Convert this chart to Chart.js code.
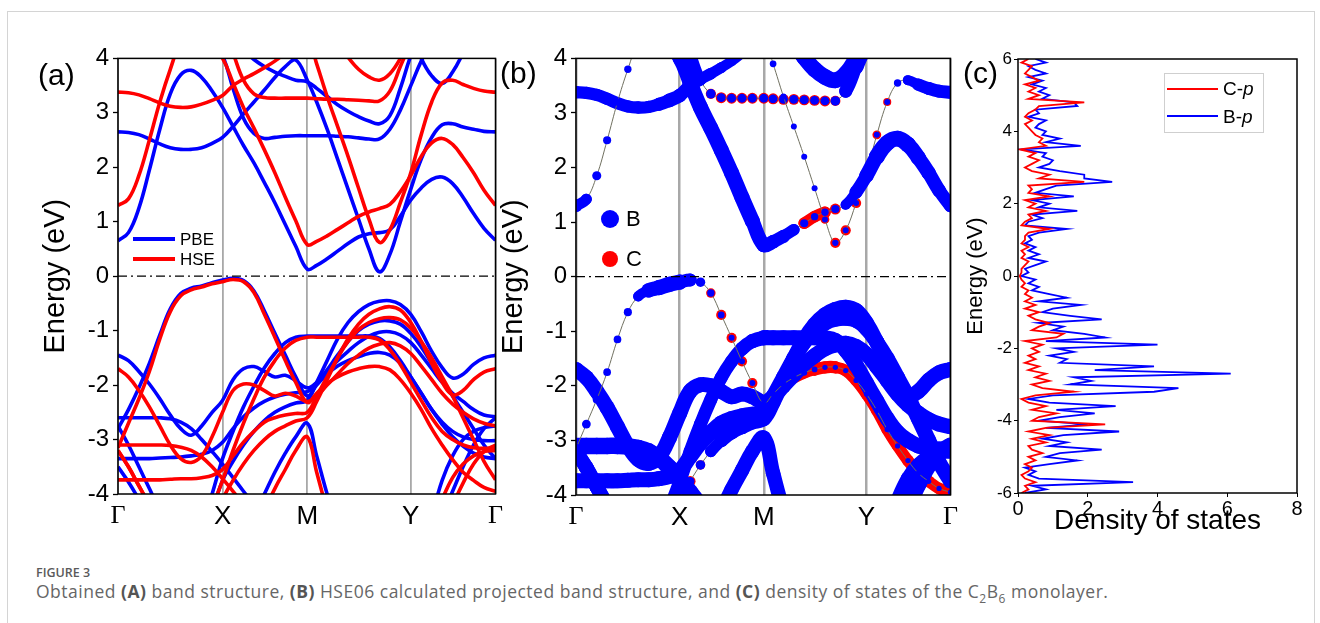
<!DOCTYPE html>
<html>
<head>
<meta charset="utf-8">
<script src="https://cdn.jsdelivr.net/npm/chart.js@4.4.1/dist/chart.umd.min.js"></script>
<style>
  body { margin: 0; background: #fff; width: 1320px; height: 623px; overflow: hidden; position: relative;
         font-family: "Liberation Sans", Arial, sans-serif; color: #000; }
  .card { position: absolute; left: 7px; top: 11px; width: 1306px; height: 680px; border: 1px solid #d4d4d4; }
  canvas { position: absolute; }
  .lab { position: absolute; line-height: 1; white-space: nowrap; }
  .swatch { position: absolute; }
  .cap1 { position: absolute; left: 36px; top: 564px; font: 600 12.5px "Open Sans", sans-serif; color: #5a5a5a; }
  .cap2 { position: absolute; left: 36px; top: 579px; font: 400 17.5px "Open Sans", sans-serif; color: #666; white-space: nowrap; letter-spacing: 0.5px; }
  .cap2 b { font-weight: 700; color: #555; }
</style>
</head>
<body>
<div class="card"></div>

<canvas id="bandA" width="490" height="490" style="left:20px;top:40px;width:490px;height:490px"></canvas>
<canvas id="bandB" width="475" height="490" style="left:490px;top:40px;width:475px;height:490px"></canvas>
<canvas id="dosC" width="350" height="500" style="left:960px;top:40px;width:350px;height:500px"></canvas>

<div class="lab" style="left:38px;top:60px;font-size:30px">(a)</div>
<div class="lab" style="left:500px;top:58px;font-size:30px">(b)</div>
<div class="lab" style="left:963px;top:58px;font-size:30px">(c)</div>

<!-- legend (a) -->
<div class="swatch" style="left:133px;top:237px;width:42px;height:4px;background:#0000ff"></div>
<div class="lab" style="left:180px;top:231px;font-size:17px">PBE</div>
<div class="swatch" style="left:133px;top:257px;width:42px;height:4px;background:#ff0000"></div>
<div class="lab" style="left:180px;top:251px;font-size:17px">HSE</div>

<!-- legend (b) -->
<div class="swatch" style="left:601px;top:210px;width:18px;height:18px;border-radius:50%;background:#0000ff"></div>
<div class="lab" style="left:626px;top:208px;font-size:22px">B</div>
<div class="swatch" style="left:602px;top:251px;width:16px;height:16px;border-radius:50%;background:#ff0000"></div>
<div class="lab" style="left:626px;top:248px;font-size:22px">C</div>

<!-- legend (c) -->
<div class="swatch" style="left:1164px;top:73px;width:98px;height:58px;border:1px solid #cfcfcf"></div>
<div class="swatch" style="left:1167px;top:88px;width:51px;height:2px;background:#ff0000"></div>
<div class="lab" style="left:1223px;top:79px;font-size:19px">C-<i>p</i></div>
<div class="swatch" style="left:1167px;top:115px;width:51px;height:2px;background:#0000ff"></div>
<div class="lab" style="left:1223px;top:107px;font-size:19px">B-<i>p</i></div>

<div class="cap1">FIGURE 3</div>
<div class="cap2">Obtained <b>(A)</b> band structure, <b>(B)</b> HSE06 calculated projected band structure, and <b>(C)</b> density of states of the C<sub style="font-size:12px">2</sub>B<sub style="font-size:12px">6</sub> monolayer.</div>

<script>
// k-path: high-symmetry points and the sampled k positions
const kTicks = [0, 1, 1.81, 2.8, 3.61];
const kLabels = ['Γ', 'X', 'M', 'Y', 'Γ'];
const kPath = [0, 0.1, 0.2, 0.3, 0.4, 0.5, 0.6, 0.7, 0.8, 0.9, 1.0,
               1.1, 1.2, 1.3, 1.4, 1.5, 1.6, 1.7, 1.81,
               1.9, 2.0, 2.1, 2.2, 2.3, 2.4, 2.5, 2.6, 2.7, 2.8,
               2.9, 3.0, 3.1, 3.2, 3.3, 3.4, 3.5, 3.61];
const energyTicks = [-4, -3, -2, -1, 0, 1, 2, 3, 4];

// PBE bands (eV), rows: Γ-X | X-M | M-Y | Y-Γ
const pbeC1 = [0.65, 0.8, 1.25, 1.95, 2.7, 3.35, 3.7, 3.78, 3.65, 3.4, 3.1,
               2.75, 2.4, 2.08, 1.72, 1.35, 0.95, 0.55, 0.13,
               0.2, 0.32, 0.46, 0.6, 0.72, 0.78, 0.8, 0.85, 1.1, 1.4,
               1.62, 1.78, 1.82, 1.7, 1.45, 1.15, 0.88, 0.66];
const pbeC2 = [2.65, 2.64, 2.6, 2.52, 2.43, 2.36, 2.33, 2.33, 2.36, 2.44, 2.55,
               2.75, 2.98, 3.2, 3.42, 3.65, 3.85, 3.97, 3.6,
               3.2, 2.7, 2.15, 1.6, 1.05, 0.5, 0.08, 0.4, 1.0, 1.6,
               2.15, 2.55, 2.78, 2.8, 2.74, 2.7, 2.66, 2.65];
const pbeC3 = [4.8, 4.8, 4.8, 4.8, 4.8, 4.8, 4.7, 4.6, 4.5, 4.3, 4.05,
               3.45, 2.9, 2.62, 2.53, 2.55, 2.57, 2.58, 2.58,
               2.58, 2.58, 2.57, 2.56, 2.54, 2.52, 2.52, 2.7, 3.05, 3.5,
               3.95, 4.3, 4.6, 4.8, 4.8, 4.8, 4.8, 4.8];
const pbeC4 = [4.8, 4.8, 4.8, 4.8, 4.8, 4.8, 4.8, 4.8, 4.8, 4.7, 4.6,
               4.35, 4.15, 3.98, 3.85, 3.75, 3.67, 3.6, 3.57,
               3.45, 3.3, 3.15, 3.03, 2.93, 2.85, 2.8, 2.95, 3.45, 4.05,
               4.5, 4.8, 4.8, 4.8, 4.8, 4.8, 4.8, 4.8];
const pbeC5 = [4.8, 4.8, 4.8, 4.8, 4.8, 4.8, 4.8, 4.8, 4.8, 4.8, 4.8,
               4.8, 4.8, 4.8, 4.8, 4.8, 4.8, 4.8, 4.8,
               4.8, 4.8, 4.8, 4.8, 4.8, 4.8, 4.8, 4.8, 4.8, 4.5,
               4.0, 3.68, 3.54, 3.75, 4.1, 4.5, 4.8, 4.8];
const pbeV1 = [-2.8, -2.45, -2.05, -1.6, -1.08, -0.6, -0.32, -0.22, -0.18, -0.12, -0.07,
               -0.04, -0.08, -0.27, -0.64, -1.05, -1.45, -1.85, -2.2,
               -2.0, -1.8, -1.65, -1.55, -1.48, -1.42, -1.4, -1.45, -1.6, -1.85,
               -2.15, -2.45, -2.72, -2.95, -3.12, -3.25, -3.32, -3.35];
const pbeV2 = [-1.45, -1.55, -1.75, -1.98, -2.25, -2.55, -2.8, -2.92, -2.75, -2.5, -2.28,
               -1.9, -1.7, -1.66, -1.75, -1.85, -1.82, -1.92, -2.05,
               -1.95, -1.75, -1.55, -1.38, -1.22, -1.1, -1.03, -1.02, -1.08, -1.22,
               -1.45, -1.7, -1.95, -2.15, -2.3, -2.45, -2.55, -2.58];
const pbeV3 = [-2.6, -2.6, -2.6, -2.6, -2.6, -2.62, -2.68, -2.8, -3.0, -3.22, -3.45,
               -3.7, -3.95, -4.2, -4.45, -4.7, -4.9, -5, -5,
               -5, -5, -5, -5, -5, -5, -5, -5, -5, -5,
               -5, -4.8, -4.4, -3.95, -3.5, -3.1, -2.8, -2.6];
const pbeV4 = [-3.5, -3.78, -4.1, -4.45, -4.75, -5, -5, -5, -4.6, -4.0, -3.35,
               -2.85, -2.4, -2.02, -1.68, -1.42, -1.22, -1.12, -1.1,
               -1.1, -1.1, -1.1, -1.1, -1.1, -1.1, -1.14, -1.3, -1.55, -1.85,
               -2.15, -2.45, -2.68, -2.85, -2.95, -3.0, -3.02, -3.02];
const pbeV5 = [-3.35, -3.35, -3.35, -3.35, -3.34, -3.33, -3.32, -3.3, -3.27, -3.2, -3.05,
               -2.8, -2.58, -2.42, -2.3, -2.22, -2.17, -2.14, -2.12,
               -1.98, -1.72, -1.45, -1.2, -1.0, -0.88, -0.82, -0.82, -0.88, -1.05,
               -1.3, -1.6, -1.9, -2.2, -2.5, -2.8, -3.1, -3.35];
const pbeV6 = [-2.75, -3.1, -3.5, -3.9, -4.3, -4.65, -5, -5, -5, -5, -5,
               -5, -4.8, -4.4, -4.0, -3.6, -3.25, -2.95, -2.7,
               -3.3, -4.0, -4.6, -5, -5, -5, -5, -5, -5, -5,
               -5, -4.4, -3.75, -3.3, -3.0, -2.85, -2.78, -2.75];
const pbeV7 = [-5, -5, -5, -5, -5, -5, -5, -5, -4.8, -4.3, -3.75,
               -3.4, -3.1, -2.85, -2.65, -2.5, -2.4, -2.33, -2.28,
               -1.95, -1.55, -1.15, -0.85, -0.65, -0.52, -0.46, -0.45, -0.52, -0.7,
               -1.02, -1.38, -1.68, -1.87, -1.8, -1.62, -1.5, -1.45];

// HSE bands (eV)
const hseC1 = [1.3, 1.42, 1.85, 2.5, 3.2, 3.8, 4.3, 4.5, 4.4, 4.2, 4.0,
               3.55, 3.1, 2.72, 2.32, 1.9, 1.45, 1.02, 0.58,
               0.64, 0.74, 0.86, 0.98, 1.1, 1.18, 1.24, 1.32, 1.55, 1.85,
               2.2, 2.45, 2.53, 2.42, 2.18, 1.9, 1.58, 1.3];
const hseC2 = [3.38, 3.37, 3.33, 3.26, 3.18, 3.12, 3.1, 3.11, 3.16, 3.23, 3.32,
               3.5, 3.62, 3.72, 3.83, 3.95, 4.1, 4.28, 4.4,
               3.9, 3.3, 2.75, 2.2, 1.62, 1.05, 0.62, 0.85, 1.35, 1.9,
               2.6, 3.2, 3.55, 3.6, 3.52, 3.45, 3.4, 3.38];
const hseC3 = [4.8, 4.8, 4.8, 4.8, 4.8, 4.8, 4.8, 4.8, 4.8, 4.7, 4.6,
               4.1, 3.6, 3.35, 3.28, 3.27, 3.27, 3.27, 3.27,
               3.26, 3.25, 3.25, 3.24, 3.23, 3.22, 3.22, 3.4, 3.85, 4.3,
               4.8, 4.8, 4.8, 4.8, 4.8, 4.8, 4.8, 4.8];
const hseC4 = [4.8, 4.8, 4.8, 4.8, 4.8, 4.8, 4.8, 4.8, 4.8, 4.8, 4.8,
               4.8, 4.8, 4.8, 4.8, 4.8, 4.8, 4.8, 4.8,
               4.8, 4.6, 4.3, 4.02, 3.8, 3.66, 3.6, 3.72, 4.0, 4.4,
               4.8, 4.8, 4.8, 4.8, 4.8, 4.8, 4.8, 4.8];
const hseV1 = [-3.15, -2.7, -2.25, -1.75, -1.15, -0.65, -0.36, -0.25, -0.2, -0.14, -0.1,
               -0.06, -0.1, -0.3, -0.7, -1.12, -1.55, -1.95, -2.32,
               -2.15, -1.97, -1.85, -1.76, -1.7, -1.66, -1.66, -1.72, -1.9, -2.15,
               -2.45, -2.8, -3.1, -3.37, -3.6, -3.75, -3.88, -3.95];
const hseV2 = [-1.7, -1.85, -2.1, -2.4, -2.75, -3.1, -3.35, -3.42, -3.3, -2.95, -2.5,
               -2.1, -1.98, -2.0, -2.1, -2.2, -2.15, -2.2, -2.3,
               -2.2, -2.0, -1.8, -1.6, -1.45, -1.32, -1.25, -1.22, -1.28, -1.42,
               -1.65, -1.9, -2.15, -2.35, -2.5, -2.62, -2.7, -2.75];
const hseV3 = [-3.1, -3.1, -3.1, -3.1, -3.1, -3.11, -3.14, -3.2, -3.32, -3.5, -3.72,
               -3.95, -4.2, -4.45, -4.7, -4.9, -5, -5, -5,
               -5, -5, -5, -5, -5, -5, -5, -5, -5, -5,
               -5, -4.9, -4.6, -4.2, -3.8, -3.45, -3.22, -3.1];
const hseV4 = [-3.2, -3.5, -3.85, -4.2, -4.55, -4.8, -5, -5, -4.7, -4.25, -3.75,
               -3.2, -2.7, -2.25, -1.85, -1.55, -1.32, -1.18, -1.12,
               -1.12, -1.12, -1.12, -1.12, -1.12, -1.12, -1.17, -1.35, -1.62, -1.95,
               -2.28, -2.6, -2.85, -3.0, -3.1, -3.15, -3.16, -3.15];
const hseV5 = [-3.74, -3.74, -3.74, -3.74, -3.74, -3.73, -3.72, -3.72, -3.7, -3.66, -3.55,
               -3.3, -3.05, -2.85, -2.68, -2.6, -2.55, -2.52, -2.5,
               -2.2, -1.85, -1.5, -1.2, -0.98, -0.85, -0.78, -0.76, -0.8, -0.95,
               -1.2, -1.5, -1.85, -2.2, -2.6, -3.0, -3.4, -3.74];
const hseV6 = [-3.2, -3.5, -3.85, -4.2, -4.6, -4.9, -5, -5, -5, -5, -5,
               -5, -5, -4.7, -4.3, -3.9, -3.55, -3.2, -2.95,
               -3.6, -4.3, -4.9, -5, -5, -5, -5, -5, -5, -5,
               -5, -4.6, -4.1, -3.7, -3.45, -3.3, -3.22, -3.2];
const hseV7 = [-5, -5, -5, -5, -5, -5, -5, -5, -5, -4.6, -4.1,
               -3.75, -3.45, -3.2, -3.0, -2.85, -2.75, -2.66, -2.6,
               -2.3, -1.9, -1.5, -1.15, -0.88, -0.7, -0.6, -0.56, -0.62, -0.85,
               -1.2, -1.6, -1.95, -2.18, -2.1, -1.9, -1.76, -1.7];

// projected weights for panel (b): B and C character (0..1)
const hseC1B = [0.7, 0.55, 0.42, 0.35, 0.32, 0.3, 0.3, 0.3, 0.5, 0.7, 0.8,
                0.85, 0.85, 0.85, 0.85, 0.85, 0.85, 0.85, 0.8,
                0.75, 0.7, 0.6, 0.35, 0.3, 0.3, 0.35, 0.5, 0.7, 0.8,
                0.9, 0.9, 0.9, 0.9, 0.85, 0.8, 0.75, 0.7];
const hseC1C = [0, 0, 0, 0, 0, 0, 0, 0, 0, 0, 0,
                0, 0, 0, 0, 0, 0, 0, 0,
                0, 0, 0, 0.6, 0.6, 0.6, 0.55, 0.3, 0, 0,
                0, 0, 0, 0, 0, 0, 0, 0];
const hseC2B = [0.65, 0.65, 0.65, 0.65, 0.65, 0.65, 0.65, 0.65, 0.7, 0.75, 0.75,
                0.7, 0.65, 0.6, 0.55, 0.5, 0.5, 0.5, 0.4,
                0.25, 0.22, 0.2, 0.2, 0.2, 0.2, 0.22, 0.2, 0.2, 0.2,
                0.2, 0.2, 0.3, 0.5, 0.65, 0.7, 0.7, 0.7];
const hseC2C = [0, 0, 0, 0, 0, 0, 0, 0, 0, 0, 0,
                0, 0, 0, 0, 0, 0, 0, 0,
                0, 0, 0, 0, 0, 0.4, 0.5, 0.5, 0.5, 0.45,
                0.4, 0.35, 0, 0, 0, 0, 0, 0];
const hseC3B = [0.6, 0.6, 0.6, 0.6, 0.6, 0.6, 0.6, 0.6, 0.6, 0.6, 0.6,
                0.6, 0.55, 0.45, 0.4, 0.4, 0.4, 0.4, 0.4,
                0.4, 0.4, 0.4, 0.4, 0.4, 0.4, 0.45, 0.7, 0.85, 0.85,
                0.85, 0.85, 0.85, 0.85, 0.85, 0.85, 0.85, 0.85];
const hseC3C = [0, 0, 0, 0, 0, 0, 0, 0, 0, 0, 0,
                0.2, 0.4, 0.5, 0.55, 0.55, 0.55, 0.55, 0.55,
                0.55, 0.55, 0.55, 0.55, 0.55, 0.55, 0.5, 0.2, 0, 0,
                0, 0, 0, 0, 0, 0, 0, 0];
const hseV1B = [0.45, 0.4, 0.35, 0.32, 0.32, 0.35, 0.5, 0.8, 0.85, 0.85, 0.85,
                0.7, 0.45, 0.3, 0.25, 0.2, 0.2, 0.2, 0.2,
                0.2, 0.2, 0.2, 0.2, 0.18, 0.15, 0.15, 0.15, 0.15, 0.15,
                0.15, 0.15, 0.15, 0.15, 0.15, 0.15, 0.15, 0.15];
const hseV1C = [0, 0, 0, 0, 0, 0, 0, 0, 0, 0, 0,
                0.1, 0.3, 0.45, 0.5, 0.5, 0.5, 0.5, 0.55,
                0.6, 0.6, 0.6, 0.6, 0.65, 0.65, 0.65, 0.6, 0.6, 0.6,
                0.6, 0.6, 0.6, 0.6, 0.6, 0.6, 0.6, 0.6];
const hseV4B = [0.8, 0.8, 0.8, 0.8, 0.8, 0.8, 0.8, 0.8, 0.7, 0.7, 0.7,
                0.7, 0.7, 0.7, 0.7, 0.7, 0.75, 0.8, 0.85,
                0.85, 0.85, 0.85, 0.85, 0.85, 0.85, 0.85, 0.85, 0.85, 0.85,
                0.85, 0.85, 0.85, 0.85, 0.85, 0.85, 0.85, 0.85];
const hseV7B = [0.85, 0.85, 0.85, 0.85, 0.85, 0.85, 0.85, 0.85, 0.85, 0.5, 0.4,
                0.4, 0.45, 0.6, 0.75, 0.8, 0.85, 0.85, 0.85,
                0.85, 0.85, 0.85, 0.85, 0.85, 0.85, 0.85, 0.85, 0.85, 0.85,
                0.85, 0.85, 0.85, 0.85, 0.85, 0.85, 0.85, 0.85];
const hseV7C = [0, 0, 0, 0, 0, 0, 0, 0, 0, 0.5, 0.6,
                0.55, 0.45, 0.2, 0, 0, 0, 0, 0,
                0, 0, 0, 0, 0, 0, 0, 0, 0, 0,
                0, 0, 0, 0, 0, 0, 0, 0];

// DOS, panel (c)
const dosE = [-6.0, -5.9, -5.8, -5.7, -5.6, -5.5, -5.4, -5.3, -5.2, -5.1,
              -5.0, -4.9, -4.8, -4.7, -4.6, -4.5, -4.4, -4.3, -4.2, -4.1,
              -4.0, -3.9, -3.8, -3.7, -3.6, -3.5, -3.4, -3.3, -3.2, -3.1,
              -3.0, -2.9, -2.8, -2.7, -2.6, -2.5, -2.4, -2.3, -2.2, -2.1,
              -2.0, -1.9, -1.8, -1.7, -1.6, -1.5, -1.4, -1.3, -1.2, -1.1,
              -1.0, -0.9, -0.8, -0.7, -0.6, -0.5, -0.4, -0.3, -0.2, -0.1,
              0.0, 0.1, 0.2, 0.3, 0.4, 0.5, 0.6, 0.7, 0.8, 0.9,
              1.0, 1.1, 1.2, 1.3, 1.4, 1.5, 1.6, 1.7, 1.8, 1.9,
              2.0, 2.1, 2.2, 2.3, 2.4, 2.5, 2.6, 2.7, 2.8, 2.9,
              3.0, 3.1, 3.2, 3.3, 3.4, 3.5, 3.6, 3.7, 3.8, 3.9,
              4.0, 4.1, 4.2, 4.3, 4.4, 4.5, 4.6, 4.7, 4.8, 4.9,
              5.0, 5.1, 5.2, 5.3, 5.4, 5.5, 5.6, 5.7, 5.8, 5.9,
              6.0];
const dosBp = [0.2, 0.8, 0.4, 3.3, 0.6, 0.3, 0.5, 0.2, 0.9, 1.7,
               0.8, 1.2, 2.4, 0.9, 1.4, 0.7, 1.3, 2.9, 0.8, 2.0,
               0.6, 1.2, 2.2, 1.1, 2.8, 0.9, 0.3, 1.0, 3.9, 4.6,
               1.5, 2.1, 1.6, 6.1, 2.2, 3.9, 1.2, 1.4, 0.9, 1.6,
               1.1, 4.0, 0.8, 2.5, 1.9, 1.0, 1.3, 0.6, 2.4, 1.5,
               0.7, 1.0, 1.8, 0.6, 1.4, 0.9, 0.4, 0.6, 0.3, 0.5,
               0.1, 0.3, 0.2, 0.5, 0.8, 0.3, 0.6, 0.3, 0.5, 0.2,
               0.4, 0.3, 0.6, 1.4, 0.2, 0.3, 0.7, 0.4, 1.7, 0.6,
               0.9, 0.4, 1.6, 0.5, 0.8, 1.1, 2.7, 1.9, 1.9, 1.2,
               0.6, 0.9, 1.0, 0.7, 0.8, 0.1, 1.8, 0.8, 1.2, 0.7,
               0.8, 0.5, 0.6, 0.8, 0.3, 0.6, 0.5, 1.7, 1.6, 0.7,
               0.9, 0.6, 0.8, 0.4, 0.7, 0.3, 0.8, 0.5, 0.3, 0.8,
               0.5];
const dosCp = [0.1, 0.3, 0.2, 0.5, 0.2, 0.1, 0.3, 0.4, 0.2, 0.5,
               0.3, 0.7, 0.4, 0.3, 0.8, 0.4, 0.9, 0.3, 0.8, 2.5,
               0.4, 0.6, 1.1, 0.4, 0.8, 0.3, 0.1, 0.5, 1.6, 0.7,
               0.4, 0.9, 0.5, 0.8, 0.3, 0.6, 0.2, 0.5, 0.3, 0.6,
               0.4, 0.7, 0.2, 1.1, 1.3, 0.4, 0.6, 0.9, 0.5, 0.3,
               0.6, 0.2, 0.5, 0.2, 0.4, 0.2, 0.3, 0.1, 0.2, 0.1,
               0.05, 0.1, 0.1, 0.2, 0.3, 0.1, 0.2, 0.1, 0.3, 0.1,
               0.2, 0.2, 0.3, 0.9, 0.1, 0.2, 0.4, 0.3, 0.8, 0.3,
               0.5, 0.2, 0.9, 0.3, 0.4, 0.3, 1.9, 0.6, 0.9, 0.4,
               0.2, 0.4, 0.6, 0.3, 0.5, 0.05, 0.8, 0.6, 0.7, 0.5,
               0.4, 0.3, 0.2, 0.4, 0.2, 0.3, 0.5, 0.6, 1.9, 0.3,
               0.6, 0.3, 0.5, 0.2, 0.6, 0.4, 0.2, 0.3, 0.4, 0.1,
               0.3];
const dosXTicks = [0, 2, 4, 6, 8];
const dosYTicks = [-6, -4, -2, 0, 2, 4, 6];

const SANS = '"Liberation Sans", Arial, sans-serif';
const SERIF = '"Liberation Serif", "Times New Roman", serif';
const BLUE = '#0000ff';
const RED = '#ff0000';
const THREAD = '#707060';
const CLEAR = 'rgba(0,0,0,0)';
Chart.defaults.color = '#000';
Chart.defaults.font.family = SANS;

// black box round the plot area
const framePlugin = {
  id: 'frame',
  afterDatasetsDraw(chart) {
    const { ctx, chartArea: a } = chart;
    ctx.save();
    ctx.strokeStyle = '#000';
    ctx.lineWidth = 1.5;
    ctx.strokeRect(a.left, a.top, a.right - a.left, a.bottom - a.top);
    ctx.restore();
  }
};

function pts(band) {
  return kPath.map((k, i) => ({ x: k, y: band[i] }));
}

function fermiLine() {
  return {
    data: [{ x: kTicks[0], y: 0 }, { x: kTicks[kTicks.length - 1], y: 0 }],
    borderColor: '#000', borderWidth: 1.3, borderDash: [9, 4, 2, 4],
    pointRadius: 0, tension: 0, order: 0
  };
}

function bandScales(yWidth, xHeight, titlePad, vLineWidth) {
  return {
    x: {
      type: 'linear', min: kTicks[0], max: kTicks[kTicks.length - 1],
      afterBuildTicks: axis => { axis.ticks = kTicks.map(v => ({ value: v })); },
      afterFit: s => { s.height = xHeight; },
      ticks: {
        callback: (v, i) => kLabels[i],
        font: c => ({ family: kLabels[c.index] === 'Γ' ? SERIF : SANS, size: 26 }),
        padding: 7, maxRotation: 0, autoSkip: false
      },
      grid: { color: '#a8a8a8', lineWidth: vLineWidth, drawTicks: false },
      border: { display: false }
    },
    y: {
      type: 'linear', min: -4, max: 4,
      afterBuildTicks: axis => { axis.ticks = energyTicks.map(v => ({ value: v })); },
      afterFit: s => { s.width = yWidth; },
      ticks: { font: { size: 24 }, padding: 4 },
      grid: { drawOnChartArea: false, tickLength: 5, tickColor: '#000', tickWidth: 1.3 },
      border: { display: false },
      title: { display: true, text: 'Energy (eV)', font: { size: 29 }, padding: { top: titlePad, bottom: 0 } }
    }
  };
}

// panel (a): PBE vs HSE band lines
const pbeBands = [pbeC1, pbeC2, pbeC3, pbeC4, pbeC5, pbeV1, pbeV2, pbeV3, pbeV4, pbeV5, pbeV6, pbeV7];
const hseBands = [hseC1, hseC2, hseC3, hseC4, hseV1, hseV2, hseV3, hseV4, hseV5, hseV6, hseV7];

const dsA = [fermiLine()];
pbeBands.forEach(b => dsA.push({ data: pts(b), borderColor: BLUE, borderWidth: 3.6, pointRadius: 0, tension: 0.4, order: 3 }));
hseBands.forEach(b => dsA.push({ data: pts(b), borderColor: RED, borderWidth: 3.6, pointRadius: 0, tension: 0.4, order: 2 }));

new Chart(document.getElementById('bandA'), {
  type: 'line',
  data: { datasets: dsA },
  options: {
    responsive: false, animation: false, events: [],
    layout: { padding: { left: 0, right: 13, top: 18, bottom: 0 } },
    plugins: { legend: { display: false }, tooltip: { enabled: false } },
    scales: bandScales(98, 36, 19, 1.8)
  },
  plugins: [framePlugin]
});

// panel (b): HSE bands with B / C projections as dot size
const projected = [
  [hseC1, hseC1B, hseC1C], [hseC2, hseC2B, hseC2C], [hseC3, hseC3B, hseC3C], [hseC4, 0.9, null],
  [hseV1, hseV1B, hseV1C], [hseV2, 0.85, null], [hseV3, 0.95, null], [hseV4, hseV4B, null],
  [hseV5, 0.85, null], [hseV6, 0.8, null], [hseV7, hseV7B, hseV7C]
];
const weightAt = (w, i) => (typeof w === 'number' ? w : w[i]);
const THICK = 5;     // blue dot radius above which neighbouring dots merge into a band
const THICK_C = 5.6; // same for the red (C) dots

const dsB = [fermiLine()];
projected.forEach(([band, wB, wC]) => {
  const rB = kPath.map((k, i) => 1.6 + 7 * weightAt(wB, i));
  const segR = s => Math.min(rB[s.p0DataIndex], rB[s.p1DataIndex]);
  dsB.push({
    data: pts(band), tension: 0.4, borderWidth: 1, borderColor: THREAD,
    borderCapStyle: 'round', borderJoinStyle: 'round',
    segment: {
      borderWidth: s => (segR(s) >= THICK ? 2 * segR(s) : 1),
      borderColor: s => (segR(s) >= THICK ? BLUE : THREAD)
    },
    pointBackgroundColor: BLUE, pointBorderWidth: 0, pointRadius: rB, order: 2
  });
  if (wC) {
    const rC = kPath.map((k, i) => (wC[i] > 0 ? 1.6 + 7 * wC[i] : 0));
    const segC = s => Math.min(rC[s.p0DataIndex], rC[s.p1DataIndex]);
    dsB.push({
      data: pts(band), tension: 0.4, borderWidth: 1, borderColor: CLEAR,
      borderCapStyle: 'round', borderJoinStyle: 'round',
      segment: {
        borderWidth: s => (segC(s) >= THICK_C ? 2 * segC(s) : 1),
        borderColor: s => (segC(s) >= THICK_C ? RED : CLEAR)
      },
      pointBackgroundColor: RED, pointBorderWidth: 0, pointRadius: rC, order: 3
    });
  }
});

new Chart(document.getElementById('bandB'), {
  type: 'line',
  data: { datasets: dsB },
  options: {
    responsive: false, animation: false, events: [],
    layout: { padding: { left: 0, right: 10, top: 18, bottom: 0 } },
    plugins: { legend: { display: false }, tooltip: { enabled: false } },
    scales: bandScales(86, 35, 7, 2.5)
  },
  plugins: [framePlugin]
});

// panel (c): projected DOS
new Chart(document.getElementById('dosC'), {
  type: 'line',
  data: {
    datasets: [
      { label: 'C-p', data: dosE.map((e, i) => ({ x: dosCp[i], y: e })), borderColor: RED, borderWidth: 1.8, pointRadius: 0, tension: 0, order: 1 },
      { label: 'B-p', data: dosE.map((e, i) => ({ x: dosBp[i], y: e })), borderColor: BLUE, borderWidth: 1.8, pointRadius: 0, tension: 0, order: 2 }
    ]
  },
  options: {
    responsive: false, animation: false, events: [],
    layout: { padding: { left: 0, right: 13, top: 19, bottom: 0 } },
    plugins: { legend: { display: false }, tooltip: { enabled: false } },
    scales: {
      x: {
        type: 'linear', min: 0, max: 8,
        afterBuildTicks: axis => { axis.ticks = dosXTicks.map(v => ({ value: v })); },
        afterFit: s => { s.height = 47; },
        ticks: { font: { size: 20 }, padding: 0, maxRotation: 0 },
        grid: { drawOnChartArea: false, tickLength: 4, tickColor: '#000' },
        border: { display: false },
        title: { display: true, text: 'Density of states', font: { size: 28 }, padding: { top: 0, bottom: 2 } }
      },
      y: {
        type: 'linear', min: -6, max: 6,
        afterBuildTicks: axis => { axis.ticks = dosYTicks.map(v => ({ value: v })); },
        afterFit: s => { s.width = 58; },
        ticks: { font: { size: 17 }, padding: 2 },
        grid: { drawOnChartArea: false, tickLength: 4, tickColor: '#000' },
        border: { display: false },
        title: { display: true, text: 'Energy (eV)', font: { size: 22 }, padding: { top: 3, bottom: 0 } }
      }
    }
  },
  plugins: [framePlugin]
});
</script>
</body>
</html>
